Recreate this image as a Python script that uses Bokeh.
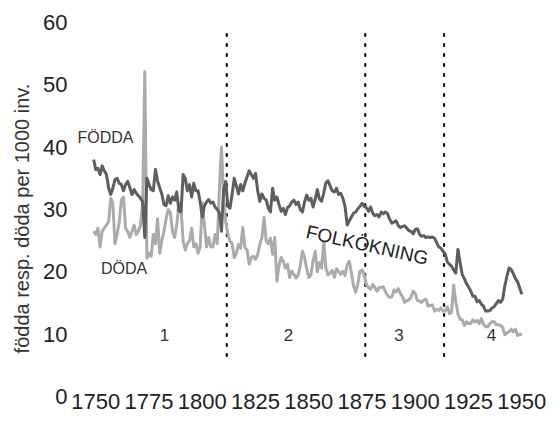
from bokeh.plotting import figure
from bokeh.models import Label, FixedTicker
from bokeh.embed import file_html
from bokeh.resources import INLINE

years = list(range(1749, 1951))

births = [
    38.0, 36.4, 36.6, 35.6, 37.0, 36.2, 35.6, 33.5, 32.4, 33.4,   # 1749-1758
    34.8, 35.0, 34.2, 34.0, 33.0, 34.0, 34.5, 33.5, 32.4, 33.2,   # 1759-1768
    32.6, 32.2, 31.8, 31.2, 25.5, 35.0, 34.0, 33.2, 33.0, 36.4,   # 1769-1778
    34.6, 33.5, 32.5, 30.8, 30.6, 32.2, 31.0, 32.0, 31.5, 32.8,   # 1779-1788
    29.8, 29.6, 35.6, 35.0, 33.0, 34.0, 32.0, 34.2, 33.0, 33.0,   # 1789-1798
    31.2, 28.8, 30.6, 31.2, 31.6, 31.0, 31.2, 30.4, 30.0, 29.5,   # 1799-1808
    26.5, 33.2, 34.5, 30.5, 30.2, 32.5, 35.0, 33.8, 32.5, 34.0,   # 1809-1818
    33.0, 34.2, 35.2, 36.2, 35.6, 35.0, 35.8, 33.0, 31.3, 32.5,   # 1819-1828
    31.8, 31.5, 30.2, 29.6, 33.4, 31.5, 32.0, 30.8, 29.7, 30.2,   # 1829-1838
    29.2, 30.3, 30.6, 31.2, 31.5, 30.8, 31.2, 30.0, 29.6, 31.2,   # 1839-1848
    32.3, 31.5, 31.8, 30.4, 31.6, 33.2, 31.7, 31.3, 32.6, 34.3,   # 1849-1858
    34.6, 33.8, 33.0, 32.8, 33.4, 32.4, 32.6, 31.8, 30.5, 27.5,   # 1859-1868
    28.2, 28.8, 29.4, 29.6, 30.1, 30.5, 31.0, 30.5, 30.3, 29.7,   # 1869-1878
    30.4, 29.4, 29.0, 29.2, 28.8, 29.6, 29.3, 29.6, 29.3, 28.4,   # 1879-1888
    27.8, 28.0, 28.2, 27.4, 27.1, 27.3, 27.4, 27.0, 26.6, 26.5,   # 1889-1898
    26.1, 26.8, 26.9, 26.0, 25.7, 25.8, 25.5, 25.6, 25.5, 25.6,   # 1899-1908
    25.4, 24.7, 24.0, 23.8, 23.3, 22.9, 21.6, 21.2, 20.9, 20.3,   # 1909-1918
    19.8, 23.6, 21.5, 19.6, 18.9, 18.1, 17.6, 16.9, 16.1, 16.1,   # 1919-1928
    15.2, 15.4, 14.8, 14.5, 13.7, 13.7, 13.8, 14.2, 14.4, 14.9,   # 1929-1938
    15.4, 15.1, 15.6, 17.7, 19.3, 20.6, 20.4, 19.7, 18.9, 18.4,   # 1939-1948
    17.4, 16.4,                                                   # 1949-1950
]

deaths = [
    26.5, 26.0, 27.0, 24.0, 26.5, 27.0, 27.5, 28.0, 31.8, 31.0,   # 1749-1758
    24.5, 26.0, 28.0, 31.5, 32.0, 27.0, 26.5, 25.5, 26.5, 27.5,   # 1759-1768
    26.0, 26.5, 27.5, 31.0, 52.1, 22.2, 23.0, 22.5, 26.0, 24.5,   # 1769-1778
    28.5, 23.0, 25.0, 26.5, 28.5, 30.0, 29.5, 26.5, 25.5, 27.5,   # 1779-1788
    31.0, 30.0, 25.0, 23.5, 24.5, 25.0, 27.0, 24.0, 24.5, 23.0,   # 1789-1798
    24.0, 31.0, 27.5, 24.0, 25.5, 24.0, 24.0, 26.0, 24.5, 33.0,   # 1799-1808
    40.0, 32.0, 28.0, 26.0, 24.9, 24.5, 22.3, 23.0, 24.4, 23.8,   # 1809-1818
    27.1, 23.9, 23.5, 21.2, 22.3, 22.5, 22.0, 22.8, 24.4, 25.5,   # 1819-1828
    28.7, 24.9, 24.5, 25.4, 22.8, 25.5, 18.5, 21.0, 22.3, 21.7,   # 1829-1838
    20.6, 21.2, 19.1, 20.1, 19.6, 19.0, 19.5, 21.0, 23.3, 22.3,   # 1839-1848
    20.5, 19.1, 19.5, 21.8, 23.3, 20.0, 21.5, 20.6, 24.9, 20.6,   # 1849-1858
    19.5, 19.8, 20.2, 19.1, 20.5, 20.0, 19.6, 20.1, 19.4, 21.1,   # 1859-1868
    21.7, 19.8, 17.8, 16.7, 18.0, 20.1, 20.3, 19.5, 18.0, 17.5,   # 1869-1878
    17.2, 18.0, 17.5, 16.9, 17.5, 17.5, 17.6, 16.8, 16.2, 15.9,   # 1879-1888
    16.0, 17.1, 16.8, 17.3, 16.5, 16.0, 15.1, 15.4, 15.5, 16.0,   # 1889-1898
    16.9, 16.5, 15.4, 15.3, 15.1, 15.5, 15.6, 14.5, 14.6, 14.7,   # 1899-1908
    13.7, 14.0, 13.8, 14.2, 13.7, 13.7, 14.4, 13.3, 13.5, 17.9,   # 1909-1918
    15.2, 13.3, 12.4, 12.3, 11.4, 12.0, 11.7, 11.7, 12.3, 11.9,   # 1919-1928
    12.2, 11.7, 12.5, 11.6, 11.2, 11.2, 11.7, 12.0, 12.0, 11.5,   # 1929-1938
    11.5, 11.4, 11.1, 9.9, 10.2, 10.4, 10.8, 10.4, 10.8, 9.8,     # 1939-1948
    10.0, 9.9,                                                    # 1949-1950
]

period_bounds = [1811.5, 1876.5, 1913.5]
period_names = ["1", "2", "3", "4"]
period_name_x = [1782.3, 1840.4, 1892.3, 1935.7]
period_name_y = 9.9

x_ticks = [1750, 1775, 1800, 1825, 1850, 1875, 1900, 1925, 1950]
y_ticks = [0, 10, 20, 30, 40, 50, 60]

FONT = "Liberation Sans"
BIRTH_COLOR = "#5e5e5e"
DEATH_COLOR = "#ababab"

p = figure(width=546, height=414, x_range=(1735.31, 1961.58), y_range=(-2.888, 60),
           output_backend="svg", toolbar_location=None,
           min_border_left=64, min_border_right=0,
           min_border_top=22, min_border_bottom=0)
p.outline_line_color = None
p.xgrid.grid_line_color = None
p.ygrid.grid_line_color = None
p.background_fill_color = "white"
p.border_fill_color = "white"

for ax in (p.xaxis[0], p.yaxis[0]):
    ax.axis_line_color = None
    ax.major_tick_line_color = None
    ax.minor_tick_line_color = None
    ax.major_label_text_font = FONT
    ax.major_label_text_font_size = "22px"
    ax.major_label_text_color = "#222222"

p.xaxis.ticker = FixedTicker(ticks=x_ticks)
p.yaxis.ticker = FixedTicker(ticks=y_ticks)
p.xaxis.fixed_location = 0
p.xaxis.major_label_standoff = -8
p.yaxis.major_tick_out = 0
p.yaxis.major_tick_in = 0
p.yaxis.major_label_standoff = -3
p.yaxis.axis_label = "födda resp. döda per 1000 inv."
p.yaxis.axis_label_text_font = FONT
p.yaxis.axis_label_text_font_size = "20px"
p.yaxis.axis_label_text_font_style = "normal"
p.yaxis.axis_label_text_color = "#333333"
p.yaxis.axis_label_standoff = 7

for xb in period_bounds:
    p.segment(x0=[xb], y0=[6.5], x1=[xb], y1=[58.2], line_color="#111111",
              line_width=2.2, line_dash="2 8", line_cap="round")

p.line(years, deaths, line_color=DEATH_COLOR, line_width=3, line_join="round")
p.line(years, births, line_color=BIRTH_COLOR, line_width=3, line_join="round")

for name, xn in zip(period_names, period_name_x):
    p.add_layout(Label(x=xn, y=period_name_y, text=name, text_align="center",
                       text_baseline="middle", text_font=FONT,
                       text_font_size="17px", text_color="#333333"))

p.add_layout(Label(x=1741.4, y=41.6, text="FÖDDA", text_align="left",
                   text_baseline="middle", text_font=FONT,
                   text_font_size="16px", text_color="#333333"))
p.add_layout(Label(x=1752.4, y=20.6, text="DÖDA", text_align="left",
                   text_baseline="middle", text_font=FONT,
                   text_font_size="16px", text_color="#333333"))
p.add_layout(Label(x=1877.4, y=24.3, text="FOLKÖKNING", text_align="center",
                   text_baseline="middle", angle=-0.22, text_font=FONT,
                   text_font_size="19px", text_color="#222222"))

open("out.html", "w").write(file_html(p, INLINE))
